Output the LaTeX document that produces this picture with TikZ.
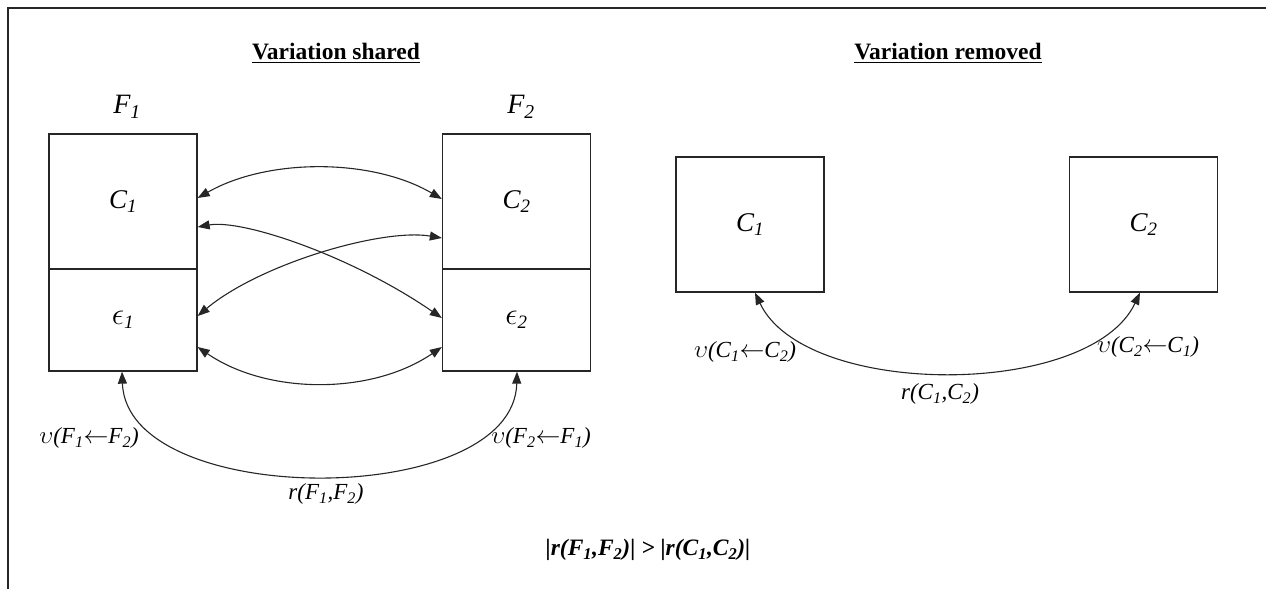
\documentclass[tikz,border=0pt]{standalone}
\usepackage{fontspec}
\setmainfont{Liberation Serif}
\usetikzlibrary{arrows.meta}
\newcommand\mysub[1]{\textsubscript{\itshape #1}}
\begin{document}
\begin{tikzpicture}[x=1pt,y=-1pt,
  box/.style={draw=black!85, line width=1.3pt, minimum width=148pt, inner sep=0pt, font=\fontsize{27}{31}\selectfont\itshape},
  link/.style={line width=1.1pt, draw=black!85, {Triangle[length=12pt,width=9pt]}-{Triangle[length=12pt,width=9pt]}},
  lab/.style={font=\fontsize{23}{27}\selectfont\itshape, inner sep=0pt},
  ttl/.style={font=\fontsize{23.5}{27}\selectfont\bfseries, inner sep=0pt},
  flab/.style={font=\fontsize{28}{32}\selectfont\itshape, inner sep=0pt}]
\useasboundingbox (0,0) rectangle (1266,589);
\draw[line width=1.9pt, black!85] (8,589) -- (8,8) -- (1266,8);

\node[ttl] (t1) at (336,53) {\underline{Variation shared}};
\node[ttl] (t2) at (948,53) {\underline{Variation removed}};

\node[flab] (f1) at (127,107) {F\mysub{1}};
\node[flab] (f2) at (521,107) {F\mysub{2}};

\node[box, minimum height=135pt] (cl) at (123,201.5) {C\mysub{1}};
\node[box, minimum height=102pt] (el) at (123,320) {\scalebox{1.25}{$\epsilon$}\mysub{1}};
\node[box, minimum height=135pt] (cr) at (516.5,201.5) {C\mysub{2}};
\node[box, minimum height=102pt] (er) at (516.5,320) {\scalebox{1.25}{$\epsilon$}\mysub{2}};

\node[box, minimum height=135pt] (rc1) at (750,224.5) {C\mysub{1}};
\node[box, minimum height=135pt] (rc2) at (1143.5,224.5) {C\mysub{2}};

% left links
\draw[link] ([yshift=3.5pt]cl.east) .. controls +(70,-40) and +(-70,-41) .. ([yshift=2.5pt]cr.west);
\draw[link] ([yshift=-25.5pt]cl.east) .. controls +(45,-8) and +(-90,-62) .. ([yshift=2pt]er.west);
\draw[link] ([yshift=-36.5pt]cr.west) .. controls +(-60,-10) and +(62,-52) .. ([yshift=4pt]el.east);
\draw[link] ([yshift=-27pt]el.east) .. controls +(70,48) and +(-70,48) .. ([yshift=-27pt]er.west);

\draw[link] ([xshift=-1pt]el.south) .. controls +(5,138) and +(-3,138) .. ([xshift=0.5pt]er.south);
\draw[link] ([xshift=5pt]rc1.south) .. controls +(50,106) and +(-50,106) .. ([xshift=-3.5pt]rc2.south);

\node[lab] (l1) at (89,438) {$\upsilon$(F\mysub{1}$\leftarrow$F\mysub{2})};
\node[lab] (l2) at (541,438) {$\upsilon$(F\mysub{2}$\leftarrow$F\mysub{1})};
\node[lab] (l3) at (326,494) {r(F\mysub{1},F\mysub{2})};
\node[lab] (l4) at (745,352) {$\upsilon$(C\mysub{1}$\leftarrow$C\mysub{2})};
\node[lab] (l5) at (1148,347) {$\upsilon$(C\mysub{2}$\leftarrow$C\mysub{1})};
\node[lab] (l6) at (940,394) {r(C\mysub{1},C\mysub{2})};

\node[lab, font=\fontsize{23.5}{27}\selectfont\bfseries\itshape] (eq) at (648,550) {|r(F\mysub{1},F\mysub{2})| > |r(C\mysub{1},C\mysub{2})|};
\end{tikzpicture}
\end{document}
